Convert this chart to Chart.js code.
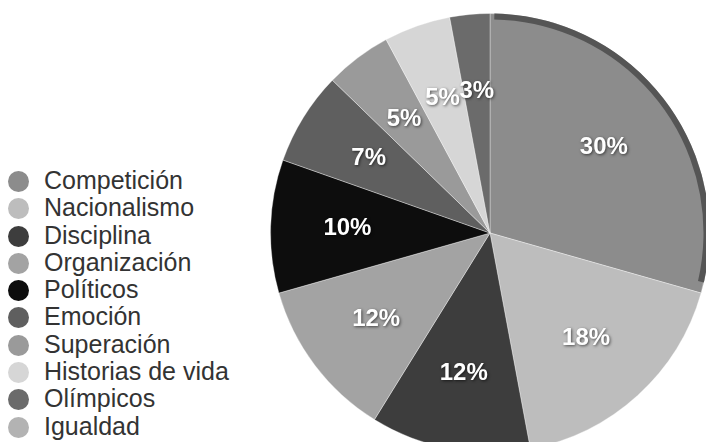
<!DOCTYPE html>
<html>
<head>
<meta charset="utf-8">
<script src="https://cdn.jsdelivr.net/npm/chart.js@4/dist/chart.umd.min.js"></script>
<style>
  html, body { margin: 0; padding: 0; background: #fff; overflow: hidden; }
  body { width: 706px; height: 442px; position: relative; font-family: "Liberation Sans", Arial, sans-serif; }
  #legend { position: absolute; left: 8px; top: 167px; margin: 0; padding: 0; list-style: none; }
  #legend li { height: 27.3px; line-height: 27.3px; font-size: 25px; color: #333; white-space: nowrap; }
  #legend span { display: inline-block; width: 21px; height: 21px; border-radius: 50%; vertical-align: -3px; margin-right: 15px; }
  #pieBox { position: absolute; left: 270px; top: 13px; width: 440px; height: 440px; }
</style>
</head>
<body>
<ul id="legend"></ul>
<div id="pieBox"><canvas id="chart"></canvas></div>
<script>
// categorías y porcentajes
var labels = ['Competición', 'Nacionalismo', 'Disciplina', 'Organización', 'Políticos',
              'Emoción', 'Superación', 'Historias de vida', 'Olímpicos', 'Igualdad'];
var values = [30, 18, 12, 12, 10, 7, 5, 5, 3, 0];
var colors = ['#8c8c8c', '#bdbdbd', '#3d3d3d', '#a3a3a3', '#0d0d0d',
              '#5f5f5f', '#9a9a9a', '#d6d6d6', '#6b6b6b', '#b3b3b3'];

// leyenda
var legend = document.getElementById('legend');
labels.forEach(function (name, i) {
    var li = document.createElement('li');
    var dot = document.createElement('span');
    dot.style.background = colors[i];
    li.appendChild(dot);
    li.appendChild(document.createTextNode(name));
    legend.appendChild(li);
});

// borde oscuro del sector mayor + etiquetas de porcentaje
var sliceLabels = {
    id: 'sliceLabels',
    afterDatasetsDraw: function (chart) {
        var ctx = chart.ctx;
        var arcs = chart.getDatasetMeta(0).data;
        var first = arcs[0];
        ctx.save();
        ctx.strokeStyle = '#555';
        ctx.lineWidth = 6;
        ctx.beginPath();
        ctx.arc(first.x, first.y, first.outerRadius - 3, first.startAngle + 0.02, first.endAngle - 0.05);
        ctx.stroke();

        ctx.font = 'bold 24px "Liberation Sans", Arial, sans-serif';
        ctx.textAlign = 'center';
        ctx.textBaseline = 'middle';
        ctx.fillStyle = '#fff';
        ctx.shadowColor = 'rgba(0,0,0,0.6)';
        ctx.shadowBlur = 3;
        ctx.shadowOffsetX = 1;
        ctx.shadowOffsetY = 1;
        arcs.forEach(function (arc, i) {
            if (!values[i]) return;
            var mid = (arc.startAngle + arc.endAngle) / 2;
            var r = arc.outerRadius * 0.65;
            ctx.fillText(values[i] + '%', arc.x + Math.cos(mid) * r, arc.y + Math.sin(mid) * r);
        });
        ctx.restore();
    }
};

new Chart(document.getElementById('chart'), {
    type: 'pie',
    data: {
        labels: labels,
        datasets: [{
            data: values,
            backgroundColor: colors,
            borderColor: 'rgba(255,255,255,0.35)',
            borderWidth: 1
        }]
    },
    options: {
        responsive: true,
        maintainAspectRatio: false,
        animation: false,
        layout: { padding: 0 },
        plugins: {
            legend: { display: false },
            tooltip: { enabled: false }
        }
    },
    plugins: [sliceLabels]
});
</script>
</body>
</html>
